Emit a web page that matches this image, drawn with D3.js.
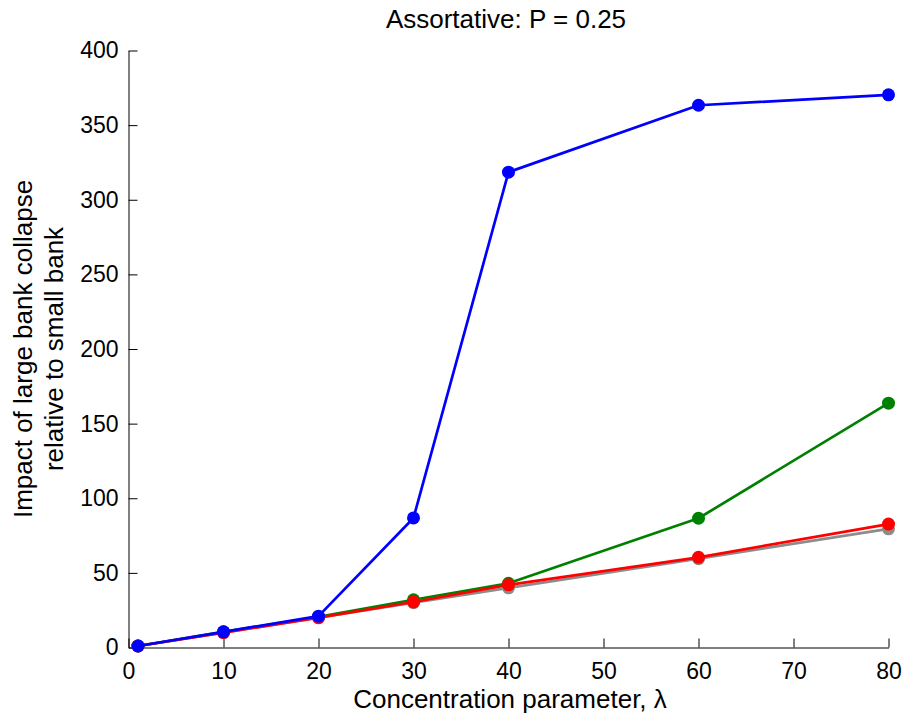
<!DOCTYPE html>
<html>
<head>
<meta charset="utf-8">
<script src="https://cdn.jsdelivr.net/npm/d3@7"></script>
<style>
  html, body { margin: 0; padding: 0; background: #fff; }
  svg { display: block; font-family: "Liberation Sans", Arial, sans-serif; }
</style>
</head>
<body>
<svg id="chart" width="904" height="715"></svg>
<script>
// Concentration parameter values (x)
const lambdas = [1, 10, 20, 30, 40, 60, 80];

// Impact of large bank collapse relative to small bank, per series
const seriesGray  = [1, 10, 20, 30, 40, 59.5, 79.5];
const seriesGreen = [1, 10.5, 20.5, 32, 43, 86.6, 163.7];
const seriesRed   = [1, 10, 20, 30.5, 42, 60.4, 82.7];
const seriesBlue  = [1, 10.5, 21, 86.8, 318.5, 363.3, 370.3];

const xTicks = [0, 10, 20, 30, 40, 50, 60, 70, 80];
const yTicks = [0, 50, 100, 150, 200, 250, 300, 350, 400];

const titleText = "Assortative: P = 0.25";
const xLabelText = "Concentration parameter, \u03BB";
const yLabelLines = ["Impact of large bank collapse", "relative to small bank"];

const series = [
  { values: seriesGray,  color: "#8c8c8c" },
  { values: seriesGreen, color: "#008000" },
  { values: seriesRed,   color: "#ff0000" },
  { values: seriesBlue,  color: "#0000ff" }
];

const svg = d3.select("#chart");
const plotLeft = 128.5, plotRight = 888.5, plotTop = 50.5, plotBottom = 647.5;

const x = d3.scaleLinear().domain([0, 80]).range([plotLeft, plotRight]);
const y = d3.scaleLinear().domain([0, 400]).range([plotBottom, plotTop]);

// Axes with inward ticks
const xAxis = d3.axisBottom(x).tickValues(xTicks).tickSizeInner(-9).tickSizeOuter(0).tickPadding(15);
const yAxis = d3.axisLeft(y).tickValues(yTicks).tickSizeInner(-9).tickSizeOuter(0).tickPadding(10);

const gx = svg.append("g").attr("transform", `translate(0,${plotBottom})`).call(xAxis);
const gy = svg.append("g").attr("transform", `translate(${plotLeft},0)`).call(yAxis);

[gx, gy].forEach(g => {
  g.selectAll("path.domain").attr("stroke", "#000").attr("stroke-width", 1);
  g.selectAll(".tick line").attr("stroke", "#000").attr("stroke-width", 1);
  g.selectAll(".tick text").attr("fill", "#000").style("font-size", "23px")
    .style("font-family", "'Liberation Sans', Arial, sans-serif");
});

// Lines and markers
const line = d3.line().x((d, i) => x(lambdas[i])).y(d => y(d));

series.forEach(s => {
  const g = svg.append("g");
  g.append("path")
    .datum(s.values)
    .attr("d", line)
    .attr("fill", "none")
    .attr("stroke", s.color)
    .attr("stroke-width", 2.7)
    .attr("stroke-linejoin", "round");
  g.selectAll("circle")
    .data(s.values)
    .join("circle")
    .attr("cx", (d, i) => x(lambdas[i]))
    .attr("cy", d => y(d))
    .attr("r", 6.5)
    .attr("fill", s.color);
});

// Title
svg.append("text")
  .attr("x", 506).attr("y", 28)
  .attr("text-anchor", "middle")
  .style("font-size", "26px")
  .attr("fill", "#000")
  .text(titleText);

// X label
svg.append("text")
  .attr("x", 510).attr("y", 708)
  .attr("text-anchor", "middle")
  .style("font-size", "26px")
  .attr("fill", "#000")
  .text(xLabelText);

// Y label (two lines, rotated)
yLabelLines.forEach((t, i) => {
  svg.append("text")
    .attr("transform", `translate(${32 + i * 30.5},${(plotTop + plotBottom) / 2}) rotate(-90)`)
    .attr("text-anchor", "middle")
    .style("font-size", "26px")
    .attr("fill", "#000")
    .text(t);
});
</script>
</body>
</html>
